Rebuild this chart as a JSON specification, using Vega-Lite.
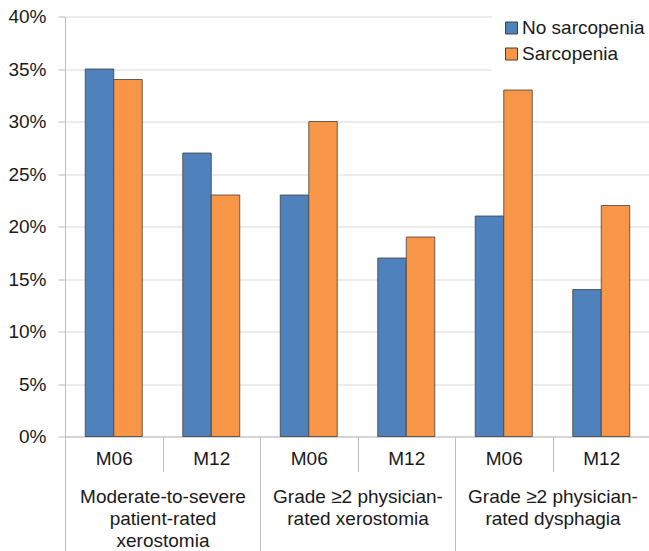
{
  "$schema": "https://vega.github.io/schema/vega-lite/v6.json",
  "width": 585,
  "height": 420,
  "autosize": {"type": "none"},
  "padding": {"left": 65, "top": 16.5, "right": 0, "bottom": 115},
  "background": "white",
  "config": {
    "font": "Liberation Sans",
    "view": {"stroke": null},
    "axis": {
      "labelFont": "Liberation Sans",
      "labelFontSize": 19,
      "labelColor": "#1a1a1a",
      "domainColor": "#bdbdbd",
      "tickColor": "#bdbdbd",
      "gridColor": "#d9d9d9",
      "title": null
    },
    "legend": {"labelFont": "Liberation Sans"}
  },
  "data": {
    "values": [
      {"key": "1 M06", "group": "Moderate-to-severe|patient-rated|xerostomia", "series": "No sarcopenia", "value": 35},
      {"key": "1 M06", "group": "Moderate-to-severe|patient-rated|xerostomia", "series": "Sarcopenia", "value": 34},
      {"key": "1 M12", "group": "Moderate-to-severe|patient-rated|xerostomia", "series": "No sarcopenia", "value": 27},
      {"key": "1 M12", "group": "Moderate-to-severe|patient-rated|xerostomia", "series": "Sarcopenia", "value": 23},
      {"key": "2 M06", "group": "Grade ≥2 physician-|rated xerostomia", "series": "No sarcopenia", "value": 23},
      {"key": "2 M06", "group": "Grade ≥2 physician-|rated xerostomia", "series": "Sarcopenia", "value": 30},
      {"key": "2 M12", "group": "Grade ≥2 physician-|rated xerostomia", "series": "No sarcopenia", "value": 17},
      {"key": "2 M12", "group": "Grade ≥2 physician-|rated xerostomia", "series": "Sarcopenia", "value": 19},
      {"key": "3 M06", "group": "Grade ≥2 physician-|rated dysphagia", "series": "No sarcopenia", "value": 21},
      {"key": "3 M06", "group": "Grade ≥2 physician-|rated dysphagia", "series": "Sarcopenia", "value": 33},
      {"key": "3 M12", "group": "Grade ≥2 physician-|rated dysphagia", "series": "No sarcopenia", "value": 14},
      {"key": "3 M12", "group": "Grade ≥2 physician-|rated dysphagia", "series": "Sarcopenia", "value": 22}
    ]
  },
  "layer": [
    {
      "mark": {"type": "bar", "stroke": "#404040", "strokeWidth": 0.8},
      "encoding": {
        "x": {
          "field": "key", "type": "nominal", "sort": null,
          "scale": {"paddingInner": 0, "paddingOuter": 0},
          "axis": {
            "orient": "bottom", "labelExpr": "slice(datum.label, 2)", "labelAngle": 0,
            "tickBand": "extent", "tickSize": 35, "labelPadding": -13,
            "labelBaseline": "middle", "grid": false, "title": null
          }
        },
        "xOffset": {
          "field": "series", "type": "nominal", "sort": ["No sarcopenia", "Sarcopenia"],
          "scale": {"paddingInner": 0, "paddingOuter": 0.71}
        },
        "y": {
          "field": "value", "type": "quantitative",
          "scale": {"domain": [0, 40]},
          "axis": {
            "values": [0, 5, 10, 15, 20, 25, 30, 35, 40],
            "labelExpr": "datum.value + '%'",
            "tickSize": 7, "labelPadding": 12, "grid": true, "title": null
          }
        },
        "color": {
          "field": "series", "type": "nominal",
          "scale": {"domain": ["No sarcopenia", "Sarcopenia"], "range": ["#4F81BD", "#F79646"]},
          "legend": {
            "orient": "none", "legendX": 427, "legendY": -8, "title": null,
            "fillColor": "white", "padding": 10, "labelFontSize": 19, "labelColor": "#1a1a1a",
            "symbolType": "square", "symbolSize": 144, "rowPadding": 6, "labelOffset": 1,
            "symbolStrokeColor": "#404040", "symbolStrokeWidth": 1, "symbolOpacity": 1
          }
        }
      }
    },
    {
      "mark": {"type": "bar", "opacity": 0},
      "encoding": {
        "x": {
          "field": "group", "type": "nominal", "sort": null,
          "scale": {"paddingInner": 0, "paddingOuter": 0},
          "axis": {
            "orient": "bottom", "labelExpr": "split(datum.label, '|')", "labelAngle": 0,
            "tickBand": "extent", "tickSize": 116, "labelPadding": -65.5,
            "labelBaseline": "top", "labelLineHeight": 22, "labelLimit": 0,
            "domain": false, "grid": false, "title": null
          }
        },
        "y": {"field": "value", "type": "quantitative", "scale": {"domain": [0, 40]}}
      }
    }
  ],
  "resolve": {"scale": {"x": "independent"}, "axis": {"x": "independent"}}
}
